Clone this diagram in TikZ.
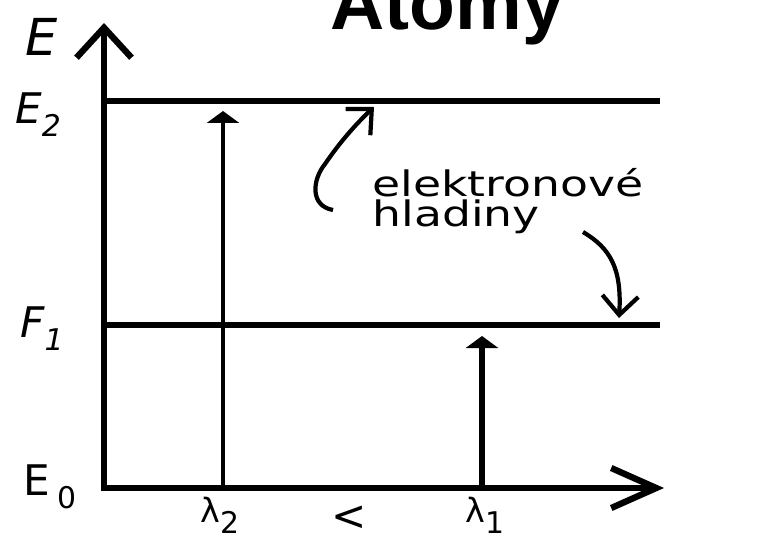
\documentclass[tikz,border=0pt]{standalone}
\usepackage{fontspec}
\setmainfont{DejaVu Sans}
\newfontfamily\titlefont{Liberation Sans}
\usetikzlibrary{arrows.meta}
\tikzset{
  osa/.style={line width=3.6pt,line join=miter},
  hlad/.style={line width=3.6pt},
  foton/.style={-{Triangle[length=2.4mm,width=6.4mm]}},
  sipka/.style={line width=2.4pt,-{Straight Barb[length=3.8mm,width=7.2mm]}},
  lbl/.style={font=\fontsize{24}{26}\selectfont,inner sep=0pt,anchor=base west},
  lam/.style={font=\fontsize{19}{21}\selectfont,inner sep=0pt,anchor=base west}
}
\newcommand{\indx}[1]{\raisebox{-0.33em}{\fontsize{17}{17}\selectfont #1}}

\begin{document}
\begin{tikzpicture}[x=0.02cm,y=-0.02cm]
\useasboundingbox (0,0) rectangle (764,541);
% osy
\coordinate (O) at (104,488);
\coordinate (ytip) at (104,23);
\coordinate (xtip) at (664,488);
\draw[osa,{Straight Barb[length=6mm,width=11mm]}-{Straight Barb[length=9mm,width=8mm]}] (ytip) -- (O) -- (xtip);
% hladiny
\coordinate (E2a) at (104,101);
\coordinate (E2b) at (660,101);
\coordinate (E1a) at (104,325);
\coordinate (E1b) at (660,325);
\draw[hlad] (E2a) -- (E2b);
\draw[hlad] (E1a) -- (E1b);
% prechody
\coordinate (l2dol) at (223,488);
\coordinate (l2hor) at (223,111);
\coordinate (l1dol) at (482,488);
\coordinate (l1hor) at (482,336);
\draw[foton,line width=1.8pt] (l2dol) -- (l2hor);
\draw[foton,line width=3.6pt] (l1dol) -- (l1hor);
% popisky
\node[lbl,font=\fontsize{29}{31}\selectfont] (lE) at (25,55) {\itshape E};
\node[lbl] (lE2) at (15,123) {\itshape E\indx{2}};
\node[lbl] (lE1) at (20,337) {\itshape F\indx{1}};
\node[lbl] (lE0) at (23,495) {E\hspace{4pt}\indx{0}};
\node[lam] (lam2) at (200,522) {λ\indx{2}};
\node[lam,font=\fontsize{24}{26}\selectfont,anchor=center] (mensi) at (349,518) {<};
\node[lam] (lam1) at (465,522) {λ\indx{1}};
\node[font=\titlefont\bfseries\fontsize{42.7}{44}\selectfont,inner sep=0pt,anchor=base west] (nadpis) at (330,30) {Atomy};
\node[font=\fontsize{20}{17.2}\selectfont,inner sep=0pt,anchor=base west] (popis) at (372,196)
  {\scalebox{1.3}[1]{\vtop{\hbox{elektronové}\hbox{hladiny}}}};
% sipky k hladinam
\coordinate (s1a) at (333,210);
\coordinate (s1b) at (374,107);
\coordinate (s2a) at (583,232);
\coordinate (s2b) at (619,318);
\draw[sipka] (s1a) .. controls (310,206) and (312,180) .. (325,164) .. controls (340,142) and (356,124) .. (s1b);
\draw[sipka] (s2a) .. controls (610,248) and (622,268) .. (s2b);
\end{tikzpicture}
\end{document}
